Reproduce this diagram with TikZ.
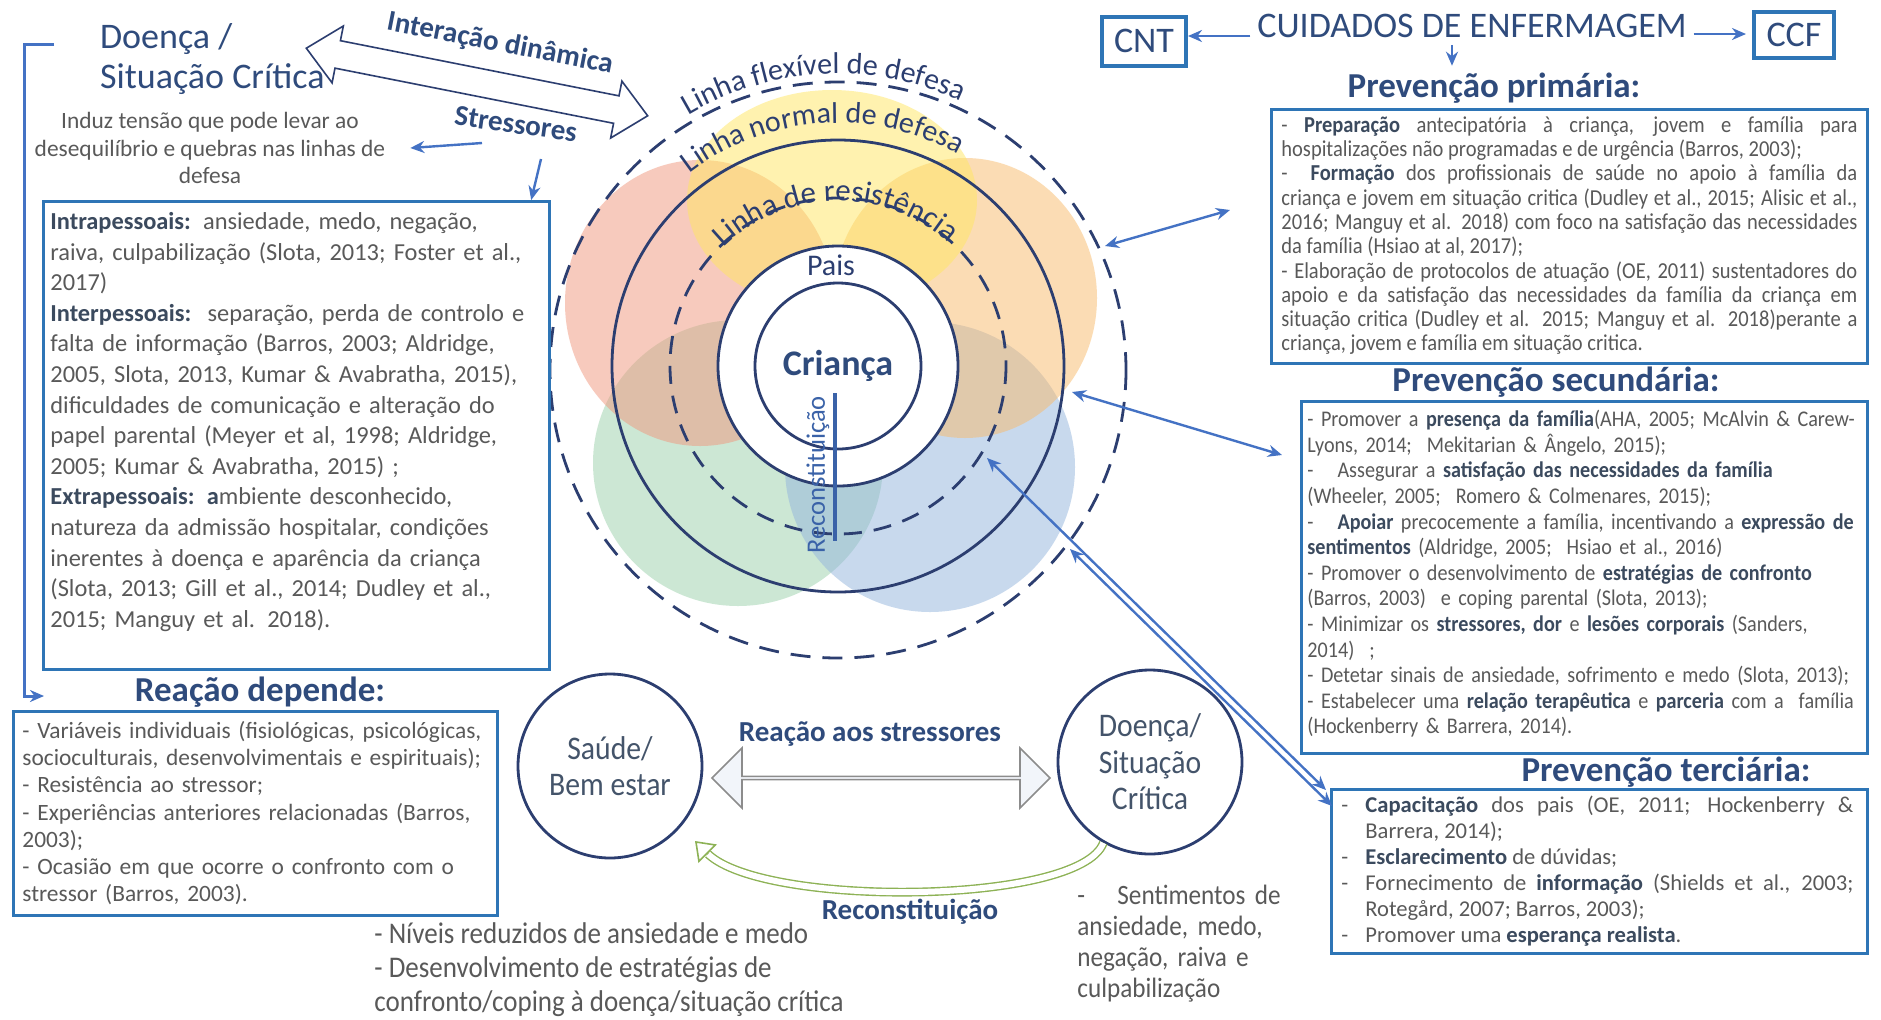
\documentclass[tikz,border=0pt]{standalone}
\usepackage{fontspec}
\setmainfont{Carlito}
\newfontfamily\narrowfont[FakeStretch=0.9]{Carlito}
\usetikzlibrary{arrows.meta,shapes.arrows,decorations.text,positioning}
\definecolor{titlenavy}{HTML}{2F4B7C}
\definecolor{ringnavy}{HTML}{2C3E70}
\definecolor{textgrey}{HTML}{595959}
\definecolor{boldgrey}{HTML}{3B4A5E}
\definecolor{circtext}{HTML}{44546A}
\definecolor{boxblue}{HTML}{2E75B6}
\definecolor{arrowblue}{HTML}{4472C4}
\definecolor{reconblue}{HTML}{3A62A8}
\definecolor{recongreen}{HTML}{8DB255}
\definecolor{arrowgrey}{HTML}{8C8C8C}
\definecolor{arrowfill}{HTML}{F2F5FA}
\definecolor{petalred}{RGB}{241,151,125}
\definecolor{petalyellow}{RGB}{255,231,97}
\definecolor{petalorange}{RGB}{249,187,107}
\definecolor{petalgreen}{RGB}{155,209,171}
\definecolor{petalblue}{RGB}{147,181,221}
\newcommand{\bterm}[1]{\textbf{\color{boldgrey}#1}}
\setlength{\parindent}{0pt}

\tikzset{
  box/.style={draw=boxblue, line width=1.6pt, inner sep=0pt, anchor=north west},
  tagbox/.style={draw=boxblue, line width=2pt, text=titlenavy, font=\fontsize{18}{18}\selectfont},
  ring/.style={draw=ringnavy, line width=1.4pt},
  circ/.style={circle, ring, minimum size=92pt, inner sep=0pt, align=center, text=circtext,
    font=\narrowfont\fontsize{16.5}{18.2}\selectfont},
  hollow arrow/.style={double arrow, inner sep=0pt, line width=0.8pt},
  blue arrow/.style={draw=arrowblue, line width=1.2pt, arrows={-Stealth[length=7pt,width=6pt]}},
  both arrow/.style={blue arrow, arrows={Stealth[length=7pt,width=6pt]-Stealth[length=7pt,width=6pt]}},
  heading/.style={text=titlenavy, font=\fontsize{17.5}{20}\selectfont\bfseries},
  boldlabel/.style={text=titlenavy, font=\fontsize{14.5}{16}\selectfont\bfseries},
  body/.style={text=textgrey, inner sep=0pt, anchor=north west, align=left},
}

\begin{document}
\begin{tikzpicture}[x=0.5pt, y=-0.5pt]
    % Page
    \useasboundingbox (0,0) rectangle (1881,1019);
    \fill[white] (0,0) rectangle (1881,1019);

    % Petals
    \begin{scope}[fill opacity=0.5]
        \fill[petalgreen] (738,463) ellipse [x radius=145, y radius=143];
        \fill[petalblue] (930,467) ellipse [x radius=145, y radius=145];
        \fill[petalred] (700,303) ellipse [x radius=135, y radius=143];
        \fill[petalorange] (965,298) ellipse [x radius=132, y radius=140];
        \fill[petalyellow] (832,200) ellipse [x radius=145, y radius=110];
    \end{scope}

    % Lines of defence
    \coordinate (ctr) at (838,366);
    \fill[white] (ctr) circle [radius=120];
    \draw[ring] (ctr) circle [radius=83];
    \draw[ring] (ctr) circle [radius=120];
    \draw[ring, dash pattern=on 9pt off 6pt] (ctr) circle [radius=168];
    \draw[ring] (ctr) circle [radius=226];
    \draw[ring, dash pattern=on 10pt off 6pt] (838,370) circle [radius=288];
    \path[shift={(ctr)}, decorate, decoration={text along path, text align=center, text color=ringnavy,
        text={|\fontsize{15}{15}\selectfont|Linha flexível de defesa}}] (207:292) arc [start angle=207, end angle=327, radius=292];
    \path[shift={(ctr)}, decorate, decoration={text along path, text align=center, text color=ringnavy,
        text={|\fontsize{15}{15}\selectfont|Linha normal de defesa}}] (201:243) arc [start angle=201, end angle=331, radius=243];
    \path[shift={(ctr)}, decorate, decoration={text along path, text align=center, text color=ringnavy,
        text={|\fontsize{15.5}{15.5}\selectfont|Linha de resistência}}] (189:165) arc [start angle=189, end angle=349, radius=165];
    \node[text=titlenavy, font=\fontsize{18}{18}\selectfont\bfseries] (crianca) at (ctr) {Criança};
    \node[text=ringnavy, font=\fontsize{15}{15}\selectfont] (pais) at (831,265) {Pais};
    \draw[reconblue, line width=1.6pt] (835,393) -- (835,541);
    \node[rotate=90, text=reconblue, font=\fontsize{13.3}{13.3}\selectfont] (reconsttxt) at (818,475) {Reconstituição};

    % Illness and stressors
    \node[anchor=north west, align=left, text=titlenavy, font=\fontsize{18}{20}\selectfont] (doenca) at (93,16) {Doença /\\Situação Crítica};
    \begin{scope}[shift={(477,82)}, rotate=-11.2]
        \draw[ringnavy, fill=white, line width=0.8pt, line join=miter] (-174,0) -- (-142,-29) -- (-142,-14) -- (142,-14)
            -- (142,-29) -- (174,0) -- (142,29) -- (142,14) -- (-142,14) -- (-142,29) -- cycle;
    \end{scope}
    \node[boldlabel, rotate=-11] (interacaotxt) at (500,44) {Interação dinâmica};
    \node[boldlabel, rotate=-8] (stressores) at (516,124) {Stressores};
    \node[text=textgrey, align=center, font=\fontsize{11.7}{13.8}\selectfont] (induz) at (210,148)
        {Induz tensão que pode levar ao\\desequilíbrio e quebras nas linhas de\\defesa};
    \coordinate (s1) at (482,143);
    \coordinate (s2) at (541,159);
    \draw[blue arrow] (s1) -- ([xshift=9pt]induz.east);

    \node[box, minimum width=253pt, minimum height=234pt] (stressbox) at (42,200) {};
    \draw[blue arrow] (s2) -- ([xshift=-10pt]stressbox.north east);
    \node[body, text width=245pt, font=\fontsize{12.2}{15.3}\selectfont] (stresstext) at (50,212) {%
        \bterm{Intrapessoais:} ansiedade, medo, negação,\\
        raiva, culpabilização (Slota, 2013; Foster et al.,\\
        2017)\\
        \bterm{Interpessoais:}\ \ separação, perda de controlo e\\
        falta de informação (Barros, 2003; Aldridge,\\
        2005, Slota, 2013, Kumar \& Avabratha, 2015),\\
        dificuldades de comunicação e alteração do\\
        papel parental (Meyer et al, 1998; Aldridge,\\
        2005; Kumar \& Avabratha, 2015) ;\\
        \bterm{Extrapessoais: a}mbiente desconhecido,\\
        natureza da admissão hospitalar, condições\\
        inerentes à doença e aparência da criança\\
        (Slota, 2013; Gill et al., 2014; Dudley et al.,\\
        2015; Manguy et al. 2018).};

    % Reaction
    \coordinate (brA) at (54,44);
    \coordinate (brB) at (44,696);
    \draw[blue arrow, line width=1.5pt] (brA) -- (24,44) -- (24,696) -- (brB);
    \node[heading] (reacaotitle) at (260,692) {Reação depende:};
    \node[box, minimum width=242pt, minimum height=102pt] (reacaobox) at (12,710) {};
    \node[body, text width=234pt, font=\fontsize{11.7}{13.6}\selectfont] (reacaotext) at (22,721) {%
        - Variáveis individuais (fisiológicas, psicológicas,\\
        socioculturais, desenvolvimentais e espirituais);\\
        - Resistência ao stressor;\\
        - Experiências anteriores relacionadas (Barros,\\
        2003);\\
        - Ocasião em que ocorre o confronto com o\\
        stressor (Barros, 2003).};

    % Nursing care
    \node[text=titlenavy, font=\fontsize{18}{18}\selectfont] (cuidados) at (1472,26) {CUIDADOS DE ENFERMAGEM};
    \node[tagbox, minimum width=42pt, minimum height=24.5pt] (cnt) at (1144,41) {CNT};
    \node[tagbox, minimum width=40pt, minimum height=23pt] (ccf) at (1794,35) {CCF};
    \draw[blue arrow] ([yshift=-5pt]cuidados.west) -- ([yshift=-5pt]cuidados.west -| cnt.east);
    \draw[blue arrow, shorten >=3pt] ([yshift=-4pt]cuidados.east) -- ([yshift=-4pt]cuidados.east -| ccf.west);
    \node[heading] (primtitle) at (1494,88) {Prevenção primária:};
    \draw[blue arrow] ([xshift=-10pt]cuidados.south) -- ([xshift=-10pt]cuidados.south |- primtitle.north);

    \node[box, minimum width=298pt, minimum height=127pt] (primbox) at (1270,108) {};
    \node[body, align=justify, text width=288pt, font=\narrowfont\fontsize{11.4}{12.15}\selectfont] (primtext) at (1281,116) {%
        - \bterm{Preparação} antecipatória à criança, jovem e família para\linebreak
        hospitalizações não programadas e de urgência (Barros, 2003);\par
        -\ \ \bterm{Formação} dos profissionais de saúde no apoio à família da\linebreak
        criança e jovem em situação critica (Dudley et al., 2015; Alisic et al.,\linebreak
        2016; Manguy et al. 2018) com foco na satisfação das necessidades\linebreak
        da família (Hsiao at al, 2017);\par
        - Elaboração de protocolos de atuação (OE, 2011) sustentadores do\linebreak
        apoio e da satisfação das necessidades da família da criança em\linebreak
        situação critica (Dudley et al. 2015; Manguy et al. 2018)perante a\linebreak
        criança, jovem e família em situação critica.};

    \node[heading] (sectitle) at (1556,382) {Prevenção secundária:};
    \node[box, minimum width=283pt, minimum height=176pt] (secbox) at (1300,400) {};
    \node[body, text width=290pt, font=\narrowfont\fontsize{11.2}{12.8}\selectfont] (sectext) at (1307,410) {%
        - Promover a \bterm{presença da família}(AHA, 2005; McAlvin \& Carew-\\
        Lyons, 2014;\ \ Mekitarian \& Ângelo, 2015);\\
        -\hspace{12pt}Assegurar a \bterm{satisfação das necessidades da família}\\
        (Wheeler, 2005;\ \ Romero \& Colmenares, 2015);\\
        -\hspace{12pt}\bterm{Apoiar} precocemente a família, incentivando a \bterm{expressão de}\\
        \bterm{sentimentos} (Aldridge, 2005;\ \ Hsiao et al., 2016)\\
        - Promover o desenvolvimento de \bterm{estratégias de confronto}\\
        (Barros, 2003)\ \ e coping parental (Slota, 2013);\\
        - Minimizar os \bterm{stressores, dor} e \bterm{lesões corporais} (Sanders,\\
        2014)\ \ ;\\
        - Detetar sinais de ansiedade, sofrimento e medo (Slota, 2013);\\
        - Estabelecer uma \bterm{relação terapêutica} e \bterm{parceria} com a\ \ família\\
        (Hockenberry \& Barrera, 2014).};

    \node[heading] (tertitle) at (1666,772) {Prevenção terciária:};
    \node[box, minimum width=268pt, minimum height=82pt] (terbox) at (1330,788) {};
    \node[body, align=justify, text width=256pt, font=\fontsize{11.3}{13}\selectfont] (tertext) at (1341,796) {%
        \hangindent=12pt\hangafter=1\makebox[12pt][l]{-}\bterm{Capacitação} dos pais (OE, 2011; Hockenberry \&\linebreak
        Barrera, 2014);\par
        \hangindent=12pt\hangafter=1\makebox[12pt][l]{-}\bterm{Esclarecimento} de dúvidas;\par
        \hangindent=12pt\hangafter=1\makebox[12pt][l]{-}Fornecimento de \bterm{informação} (Shields et al., 2003;\linebreak
        Rotegård, 2007; Barros, 2003);\par
        \hangindent=12pt\hangafter=1\makebox[12pt][l]{-}Promover uma \bterm{esperança realista}.};

    % Links to the prevention levels
    \coordinate (outerA) at (1105,246);
    \coordinate (primA) at (1230,210);
    \coordinate (normalB) at (1072,392);
    \coordinate (secB) at (1282,455);
    \coordinate (innerC) at (987,458);
    \coordinate (terC) at (1326,790);
    \coordinate (outerD) at (1070,549);
    \coordinate (terD) at (1332,806);
    \draw[both arrow] (outerA) -- (primA);
    \draw[both arrow] (normalB) -- (secB);
    \draw[both arrow] (innerC) -- (terC);
    \draw[both arrow] (outerD) -- (terD);

    % Health and illness
    \node[circ] (saude) at (610,766) {Saúde/\\Bem estar};
    \node[circ] (doencac) at (1150,762) {Doença/\\Situação\\Crítica};
    \node[hollow arrow, draw=arrowgrey, fill=arrowfill, minimum height=169pt, minimum width=30pt,
        double arrow head extend=7pt] (reacaoarrow) at (881,778) {};
    \node[boldlabel] (reacaotxt) at (870,734) {Reação aos stressores};
    \coordinate (rc2) at (708,854);
    \draw[recongreen, line width=0.7pt, double=white, double distance=3pt]
        (doencac.240) .. controls (1080,905) and (765,908) .. (rc2);
    \draw[recongreen, line width=0.8pt, -{Triangle[length=9pt, width=13pt, fill=white]}] (rc2) -- ++(-13,-13);
    \node[boldlabel] (recontxt) at (910,912) {Reconstituição};
    \node[body, font=\narrowfont\fontsize{15}{17}\selectfont] (ganhos) at (374,922)
        {- Níveis reduzidos de ansiedade e medo\\- Desenvolvimento de estratégias de\\confronto/coping à doença/situação crítica};
    \node[body, text width=120pt, font=\narrowfont\fontsize{14}{15.5}\selectfont] (sentimentos) at (1077,885)
        {\hangindent=20pt\hangafter=1\makebox[20pt][l]{-}Sentimentos de\\ansiedade, medo,\\negação, raiva e\\culpabilização};
\end{tikzpicture}
\end{document}
